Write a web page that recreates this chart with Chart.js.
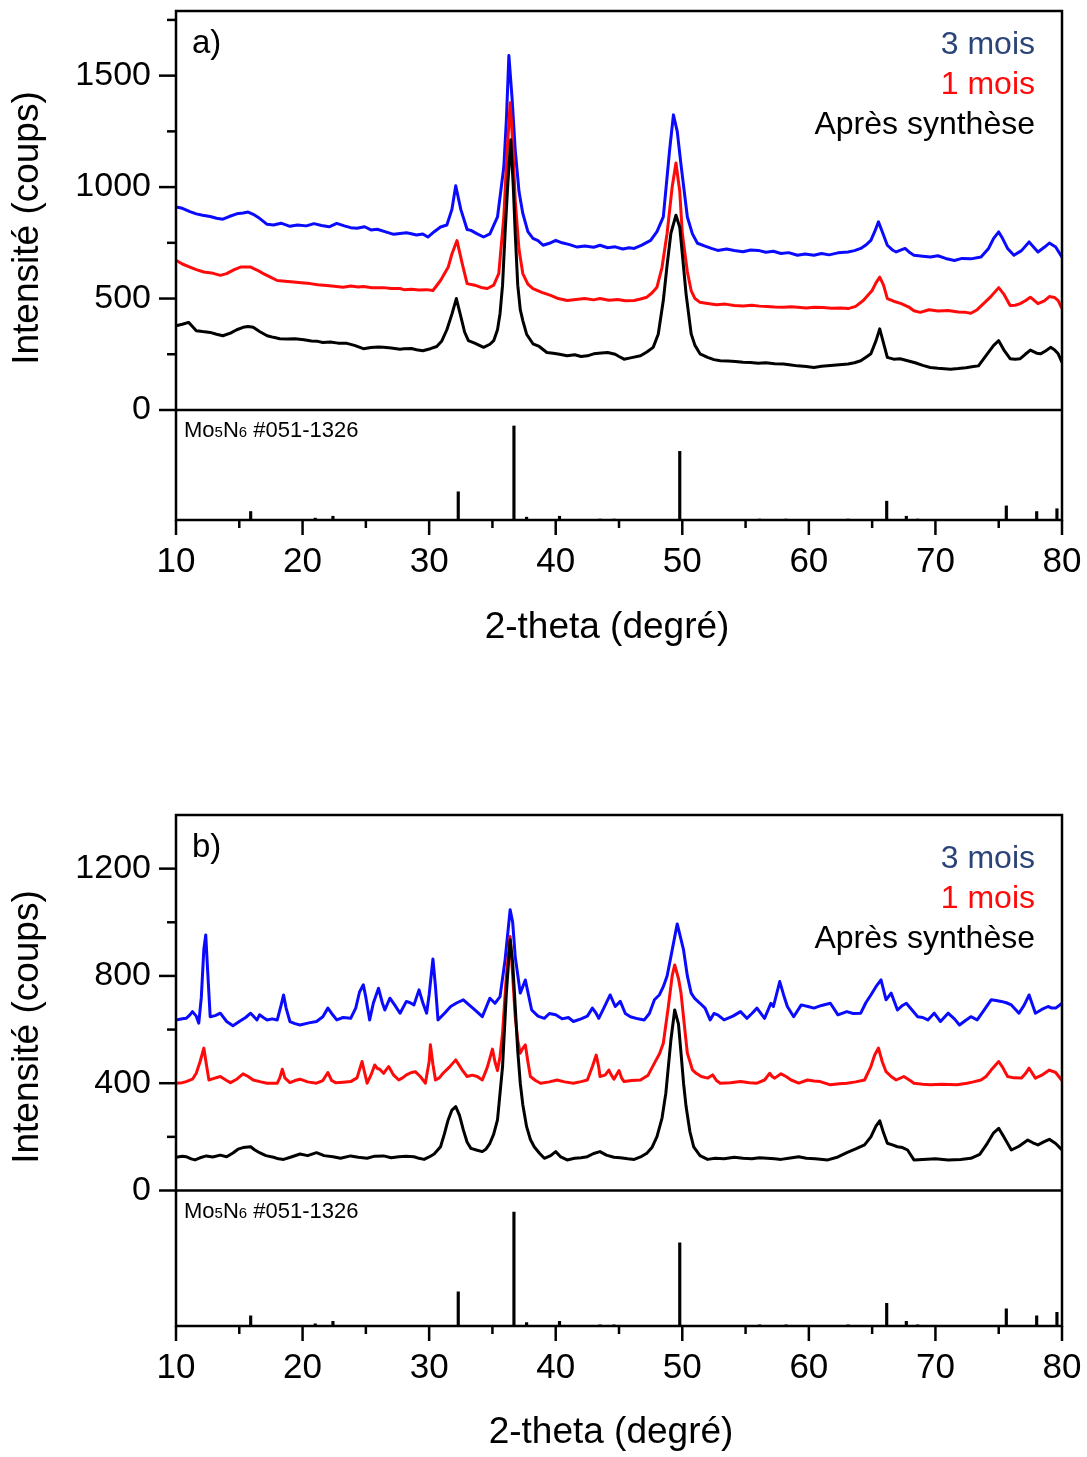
<!DOCTYPE html>
<html>
<head>
<meta charset="utf-8">
<script src="https://cdn.jsdelivr.net/npm/chart.js@4.4.1/dist/chart.umd.min.js"></script>
<style>
  html, body { margin: 0; padding: 0; background: #fff; }
  body { width: 1087px; height: 1457px; position: relative; overflow: hidden; }
  canvas { position: absolute; left: 0; }
  #graph_a { top: 0; }
  #graph_b { top: 800px; }
</style>
</head>
<body>
<canvas id="graph_a" width="1087" height="670"></canvas>
<canvas id="graph_b" width="1087" height="657"></canvas>
<script>
const FONT = '"Liberation Sans", Arial, sans-serif';
const BLUE = '#0a0aff', RED = '#ff0a0a', BLACK = '#000000', NAVY = '#2b4478';

/* legend + ticks */
const legendNames = ['3 mois', '1 mois', 'Après synthèse'];
const legendColors = [NAVY, RED, BLACK];
const xTickLabels = [10, 20, 30, 40, 50, 60, 70, 80];
const yTicksA = [0, 250, 500, 750, 1000, 1250, 1500, 1750];
const yTickLabelsA = [0, 500, 1000, 1500];
const yTicksB = [0, 200, 400, 600, 800, 1000, 1200];
const yTickLabelsB = [0, 400, 800, 1200];
const cardName = [['Mo', 0], ['5', 1], ['N', 0], ['6', 1], [' #051-1326', 0]];

/* Mo5N6 #051-1326 reference lines (relative intensity) */
const stickTheta = [15.9, 21.0, 22.4, 32.3, 36.7, 37.7, 40.3, 43.5, 44.6, 49.8, 56.1, 58.2, 63.1, 66.15, 67.7, 68.6, 75.6, 78.0, 79.6];
const stickIntensity = [9, 2, 4, 30, 100, 3, 4, 1, 1, 73, 1, 1, 1, 20, 4, 1, 15, 9, 12];

/* panel a) - 3 mois */
const thetaA3 = [10.0,10.5,11.1,11.6,12.1,12.7,13.2,13.7,14.2,14.8,15.3,15.7,16.1,16.6,17.2,17.7,18.3,19.0,19.6,20.3,20.9,21.5,22.1,22.7,23.3,23.8,24.3,24.9,25.4,25.9,26.5,27.2,27.7,28.2,28.5,29.0,29.5,29.9,30.4,30.9,31.4,31.8,32.1,32.5,33.0,33.3,33.8,34.3,34.8,35.4,35.9,36.1,36.3,36.55,36.8,37.1,37.4,37.8,38.2,38.6,39.0,39.5,40.0,40.5,41.1,41.7,42.3,43.0,43.5,44.1,44.7,45.3,45.8,46.2,46.8,47.5,48.0,48.5,49.0,49.3,49.6,49.9,50.4,50.8,51.2,51.8,52.3,52.8,53.5,54.1,54.8,55.4,56.0,56.6,57.2,57.8,58.4,59.1,59.7,60.4,61.0,61.6,62.3,63.1,63.6,64.1,64.5,64.9,65.2,65.5,65.8,66.2,66.6,66.9,67.3,67.6,68.0,68.3,69.0,69.6,70.2,70.8,71.5,72.1,72.8,73.6,74.2,74.6,75.0,75.3,75.7,76.2,76.8,77.4,78.1,78.6,79.0,79.5,80.0];
const countsA3 = [911,905,890,880,874,868,860,856,868,880,884,888,878,860,833,830,838,824,830,826,836,828,822,837,826,818,815,822,808,811,800,788,792,795,792,785,790,776,800,821,830,900,1006,900,810,806,790,776,790,866,1090,1300,1590,1400,1167,980,882,800,770,760,739,748,761,750,742,731,736,730,739,728,732,722,728,725,740,761,800,866,1167,1324,1250,1100,866,790,748,735,725,716,722,716,710,718,716,708,712,702,706,694,700,694,702,696,705,709,715,725,740,761,800,844,800,739,718,709,718,725,705,694,690,686,692,680,671,680,678,686,725,770,799,770,725,694,715,754,709,730,749,731,686];

/* panel a) - 1 mois */
const thetaA1 = [10.0,10.5,11.1,11.6,12.2,12.8,13.5,14.0,14.6,15.1,15.9,16.4,16.9,17.5,18.0,18.6,19.3,19.9,20.6,21.2,21.9,22.5,23.2,23.8,24.4,24.8,25.5,26.4,27.0,27.7,28.0,28.6,29.2,29.8,30.3,30.9,31.5,31.8,32.2,32.6,33.0,33.6,34.1,34.6,35.1,35.5,35.9,36.15,36.4,36.6,36.8,37.1,37.4,37.8,38.2,38.9,39.6,40.2,40.9,41.6,42.3,43.0,43.5,44.2,44.9,45.5,46.2,46.7,47.2,47.6,48.0,48.4,48.8,49.2,49.5,49.8,50.0,50.4,50.7,51.0,51.4,52.0,52.7,53.4,54.1,54.8,55.5,56.1,56.7,57.3,58.0,58.6,59.1,59.8,60.4,61.1,61.8,62.5,63.1,63.7,64.3,65.0,65.3,65.6,65.9,66.2,66.7,67.3,67.9,68.3,68.8,69.5,70.2,71.0,71.8,72.4,72.8,73.3,73.8,74.4,75.0,75.4,75.9,76.3,76.7,77.1,77.5,78.1,78.6,79.0,79.4,79.7,80.0];
const countsA1 = [672,655,641,630,619,615,604,612,630,641,641,628,612,595,581,578,574,571,567,562,559,555,551,556,552,554,548,549,545,545,540,542,538,540,536,581,640,700,760,660,567,560,550,545,560,612,866,1150,1378,1200,941,720,612,565,545,528,514,500,491,496,500,494,500,492,496,490,491,498,506,525,551,640,793,1000,1108,980,793,620,536,500,483,478,472,475,469,467,470,466,464,462,461,463,461,458,461,460,456,458,455,465,491,536,570,596,560,500,488,477,462,445,438,450,444,446,440,438,434,450,477,510,549,520,469,470,477,490,506,477,490,509,505,491,455];

/* panel a) - après synthèse */
const thetaA0 = [10.0,10.5,11.0,11.3,11.6,12.1,12.7,13.2,13.7,14.3,14.8,15.3,15.7,16.1,16.6,17.2,17.7,18.2,18.8,19.4,20.1,20.7,21.2,21.6,22.2,22.8,23.5,24.1,24.8,25.4,26.0,26.4,27.0,27.7,28.0,28.6,29.0,29.5,30.1,30.6,31.0,31.4,31.8,32.15,32.5,32.8,33.1,33.6,34.3,34.8,35.1,35.4,35.6,35.8,36.0,36.2,36.45,36.65,36.8,37.0,37.2,37.4,37.7,38.2,38.7,39.3,39.8,40.3,40.9,41.5,42.0,42.5,43.0,43.6,44.1,44.7,45.0,45.4,46.0,46.7,47.2,47.7,48.1,48.5,48.8,49.1,49.5,49.8,50.0,50.3,50.7,51.0,51.4,52.0,52.5,53.0,53.6,54.2,54.8,55.4,56.0,56.6,57.3,58.0,58.6,59.1,59.8,60.4,61.0,61.7,62.4,63.1,63.6,64.1,64.6,64.9,65.3,65.6,65.9,66.2,66.7,67.2,67.8,68.4,69.0,69.6,70.2,70.7,71.2,71.8,72.4,73.0,73.4,74.1,74.6,75.0,75.4,75.9,76.3,76.7,77.1,77.5,78.0,78.3,78.7,79.1,79.4,79.7,80.0];
const countsA0 = [378,385,393,375,356,352,348,340,333,345,360,371,375,371,352,333,326,320,318,320,315,310,308,303,305,300,299,290,275,280,283,281,278,273,275,276,270,266,275,285,310,360,430,500,420,350,311,300,281,295,311,360,432,560,793,1000,1212,1000,793,560,450,401,340,297,285,258,255,250,243,248,240,243,252,256,258,250,240,228,235,243,260,281,340,491,650,793,874,820,702,520,342,290,252,236,226,221,220,218,214,213,210,212,208,206,202,198,195,191,196,200,203,206,212,221,240,252,310,364,300,236,228,230,221,212,200,191,187,185,183,186,190,195,198,252,290,311,270,230,228,230,250,269,255,252,265,281,270,252,213];

/* panel b) - 3 mois */
const thetaB3 = [10.0,10.5,10.8,11.1,11.3,11.6,11.8,12.0,12.2,12.35,12.5,12.7,13.1,13.5,14.0,14.5,15.0,15.5,15.9,16.4,16.6,16.9,17.2,17.6,18.0,18.3,18.5,18.7,19.0,19.4,19.8,20.5,21.1,21.6,22.0,22.3,22.7,23.2,23.8,24.2,24.5,24.8,25.0,25.3,25.6,26.0,26.3,26.5,26.9,27.3,27.7,28.2,28.5,28.8,29.2,29.5,29.8,30.0,30.3,30.5,30.7,31.2,31.7,32.2,32.7,33.2,33.7,34.2,34.8,35.2,35.6,36.0,36.4,36.6,36.8,37.2,37.6,38.1,38.6,39.1,39.5,40.0,40.5,41.0,41.4,42.0,42.5,42.9,43.2,43.4,43.8,44.3,44.7,45.1,45.5,45.9,46.5,47.0,47.4,47.8,48.2,48.5,48.8,49.1,49.6,50.1,50.4,50.7,51.0,51.4,51.8,52.2,52.5,52.8,53.3,54.0,54.6,55.1,55.5,55.9,56.5,57.0,57.2,57.7,58.0,58.3,58.8,59.4,60.0,60.4,61.0,61.7,62.3,63.0,63.5,64.1,64.5,64.9,65.3,65.7,66.1,66.5,67.0,67.4,67.7,68.2,68.6,69.0,69.4,69.9,70.4,71.0,71.5,71.9,72.4,72.8,73.3,73.8,74.4,74.8,75.2,75.6,76.0,76.6,77.0,77.4,77.9,78.4,78.9,79.2,79.5,80.0];
const countsB3 = [636,640,642,655,667,650,624,720,900,953,820,648,652,661,630,614,630,645,661,636,655,645,636,640,636,690,729,680,630,622,617,625,630,648,680,660,636,645,642,680,740,767,720,636,700,754,700,673,717,690,661,705,700,692,748,700,661,730,863,760,636,660,686,700,711,690,670,648,717,698,723,860,1047,1000,872,736,785,673,650,642,660,655,640,645,630,640,650,680,660,642,680,729,686,705,660,648,640,636,660,711,730,760,800,872,994,897,800,736,715,698,680,636,660,655,636,650,667,642,660,680,642,698,686,779,730,686,648,692,685,680,690,698,655,667,660,661,700,729,760,785,711,736,673,690,698,670,648,645,636,661,630,661,640,617,635,648,636,670,711,708,705,700,692,661,690,729,661,675,686,680,680,698];

/* panel b) - 1 mois */
const thetaB1 = [10.0,10.5,10.8,11.3,11.6,11.9,12.2,12.4,12.6,13.0,13.5,14.0,14.3,14.8,15.3,15.7,16.1,16.7,17.2,18.0,18.2,18.4,18.6,19.0,19.4,19.8,20.4,21.1,21.6,22.0,22.3,22.6,23.2,23.8,24.3,24.7,24.9,25.1,25.4,25.7,25.9,26.1,26.4,26.6,26.8,27.2,27.6,27.9,28.2,28.6,28.9,29.3,29.7,30.0,30.1,30.3,30.5,30.8,31.1,31.6,32.1,32.6,33.0,33.4,33.8,34.2,34.6,35.0,35.2,35.4,35.6,35.8,36.1,36.4,36.6,36.8,37.0,37.2,37.4,37.6,37.8,38.0,38.4,38.8,39.5,40.1,40.7,41.4,42.0,42.5,42.9,43.2,43.4,43.5,43.9,44.2,44.4,44.6,45.0,45.2,45.4,46.0,46.7,47.3,47.8,48.2,48.5,48.9,49.2,49.4,49.7,49.9,50.2,50.4,50.8,51.1,51.5,52.0,52.2,52.4,52.7,53.0,53.8,54.6,55.3,55.9,56.5,56.9,57.1,57.3,57.8,58.2,58.6,59.2,59.9,60.4,60.9,61.7,62.4,63.0,63.7,64.4,64.9,65.2,65.5,65.8,66.1,66.5,66.9,67.5,68.0,68.3,69.0,69.6,70.5,71.7,72.5,73.0,73.6,74.0,74.4,75.0,75.3,75.7,76.2,76.8,77.1,77.4,77.9,78.4,79.0,79.5,80.0];
const countsB1 = [400,402,406,415,437,480,531,470,412,418,425,410,402,415,435,425,412,405,400,400,420,452,420,402,410,415,405,400,410,440,410,402,404,406,420,481,440,400,430,468,455,452,437,450,462,430,412,420,431,440,443,425,400,480,543,470,412,420,437,460,487,450,425,430,425,412,460,527,480,447,500,587,800,947,800,648,560,512,530,543,480,425,410,400,405,412,405,400,406,412,462,505,460,425,430,449,430,415,447,420,406,410,412,430,475,510,549,686,800,841,790,736,600,512,450,437,425,419,425,431,410,400,402,406,402,400,412,437,425,419,435,425,412,400,412,408,406,394,398,400,405,412,462,505,531,480,443,425,412,425,410,400,396,394,396,394,400,405,412,425,449,481,460,425,420,419,435,456,419,430,449,440,410];

/* panel b) - après synthèse */
const thetaB0 = [10.0,10.5,10.8,11.2,11.5,11.9,12.4,12.9,13.5,14.0,14.5,14.9,15.3,15.9,16.2,16.6,17.1,17.7,18.1,18.5,19.1,19.8,20.4,21.1,21.7,22.4,23.0,23.8,24.4,25.1,25.7,26.4,27.0,27.6,28.2,28.8,29.2,29.6,30.0,30.4,30.9,31.2,31.5,31.8,32.1,32.4,32.7,33.0,33.3,33.8,34.2,34.5,34.8,35.1,35.4,35.8,36.1,36.4,36.6,36.8,37.0,37.2,37.4,37.7,38.0,38.3,38.7,39.1,39.6,40.0,40.4,40.9,41.5,42.0,42.5,43.0,43.5,44.0,44.6,45.1,45.7,46.2,46.7,47.2,47.6,48.0,48.4,48.7,49.1,49.4,49.7,49.9,50.1,50.3,50.6,50.9,51.4,52.0,52.6,53.3,54.1,54.8,55.5,56.1,56.7,57.3,57.8,58.4,59.2,59.8,60.5,61.5,62.3,63.0,63.7,64.4,64.9,65.3,65.6,65.9,66.2,66.6,67.0,67.4,67.8,68.3,69.0,70.0,71.0,72.0,72.8,73.5,74.1,74.6,75.0,75.4,76.0,76.6,77.3,77.7,78.1,78.6,79.0,79.5,80.0];
const countsB0 = [124,128,126,118,114,122,129,125,132,126,140,154,160,163,152,141,130,124,118,116,125,136,130,141,130,126,120,129,124,120,128,129,122,126,128,126,120,116,125,136,163,210,263,300,313,280,226,180,157,150,145,155,176,210,263,462,736,935,850,686,520,400,320,238,190,163,140,120,130,145,125,114,120,122,126,138,145,132,124,122,118,116,125,139,160,201,270,363,561,673,620,512,400,313,220,163,130,116,120,118,124,120,118,122,120,118,116,120,126,120,118,114,125,141,155,170,200,240,260,215,176,170,163,160,151,114,116,118,114,116,120,135,176,215,232,200,151,165,188,178,170,182,191,175,151];

function points(theta, counts) {
    return theta.map((t, i) => ({ x: t, y: counts[i] }));
}

/* keep the plot area where the picture has it: no label overflow padding */
function fixBox(s, size) {
    if (s.isHorizontal()) s.height = size; else s.width = size;
    s.paddingTop = 0; s.paddingBottom = 0; s.paddingLeft = 0; s.paddingRight = 0;
}

/* frame, outward ticks and the texts placed inside the plot */
const framePlugin = {
    id: 'frame',
    afterDraw(chart, args, o) {
        const { ctx, chartArea: area, scales: { x, y } } = chart;
        const seg = (x1, y1, x2, y2) => { ctx.beginPath(); ctx.moveTo(x1, y1); ctx.lineTo(x2, y2); ctx.stroke(); };
        ctx.save();
        ctx.strokeStyle = BLACK;
        ctx.lineWidth = 2.5;
        ctx.strokeRect(area.left, area.top, area.right - area.left, area.bottom - area.top);
        seg(area.left, y.bottom, area.right, y.bottom);

        y.ticks.forEach(t => {
            const py = y.getPixelForValue(t.value);
            seg(area.left - (t.value % o.yMajor ? 9 : 17), py, area.left, py);
        });
        x.ticks.forEach(t => {
            const px = x.getPixelForValue(t.value);
            seg(px, area.bottom, px, area.bottom + (t.value % 10 ? 8 : 15));
        });

        ctx.fillStyle = BLACK;
        ctx.textBaseline = 'middle';
        ctx.textAlign = 'left';
        ctx.font = `33px ${FONT}`;
        ctx.fillText(o.panel, area.left + 16, area.top + 33);

        ctx.font = `32px ${FONT}`;
        ctx.textAlign = 'right';
        legendNames.forEach((name, i) => {
            ctx.fillStyle = legendColors[i];
            ctx.fillText(name, area.right - 27, area.top + o.legendTop + i * 40);
        });

        ctx.fillStyle = BLACK;
        ctx.textAlign = 'left';
        ctx.textBaseline = 'alphabetic';
        let cx = area.left + 8;
        cardName.forEach(([txt, sub]) => {
            ctx.font = `${sub ? 15 : 22}px ${FONT}`;
            ctx.fillText(txt, cx, y.bottom + 27);
            cx += ctx.measureText(txt).width;
        });

        ctx.textAlign = 'center';
        ctx.textBaseline = 'middle';
        ctx.font = `37px ${FONT}`;
        ctx.fillText('2-theta (degré)', o.xTitleX, o.xTitleY);
        ctx.translate(28, o.yTitleY);
        ctx.rotate(-Math.PI / 2);
        ctx.fillText('Intensité (coups)', 0, 0);
        ctx.restore();
    }
};

function Plot(position, p) {
    const line = (data, color) => ({
        data: data, borderColor: color, borderWidth: 3, pointRadius: 0,
        tension: 0, borderJoinStyle: 'round', fill: false, yAxisID: 'y'
    });
    new Chart(document.getElementById(`graph_${position}`), {
        type: 'line',
        data: {
            datasets: [
                line(points(p.theta[2], p.counts[2]), BLACK),
                line(points(p.theta[1], p.counts[1]), RED),
                line(points(p.theta[0], p.counts[0]), BLUE),
                {
                    type: 'bar', data: points(stickTheta, stickIntensity), yAxisID: 'y2',
                    backgroundColor: BLACK, barThickness: 2.5
                }
            ]
        },
        options: {
            responsive: false,
            devicePixelRatio: 1,
            animation: false,
            layout: { autoPadding: false, padding: { top: p.top, right: 25, left: 0, bottom: 0 } },
            plugins: { legend: { display: false }, tooltip: { enabled: false }, frame: p.frame },
            scales: {
                x: {
                    type: 'linear', min: 10, max: 80, bounds: 'data', offset: false,
                    grid: { display: false, drawTicks: false, offset: false }, border: { display: false },
                    ticks: {
                        stepSize: 5, includeBounds: false, autoSkip: false, maxRotation: 0, padding: 21,
                        color: BLACK, font: { family: FONT, size: 35 },
                        callback: v => xTickLabels.includes(v) ? String(v) : ''
                    },
                    afterFit: s => fixBox(s, p.xHeight)
                },
                // sticks first: left boxes are stacked in reverse order, so 'y' ends up on top
                y2: {
                    type: 'linear', position: 'left', stack: 'panel', stackWeight: p.weights[1],
                    min: 0, max: p.stickMax, bounds: 'data',
                    grid: { display: false, drawTicks: false }, border: { display: false },
                    ticks: { display: false },
                    afterFit: s => fixBox(s, 176)
                },
                y: {
                    type: 'linear', position: 'left', stack: 'panel', stackWeight: p.weights[0],
                    min: 0, max: p.yMax, bounds: 'data',
                    grid: { display: false, drawTicks: false }, border: { display: false },
                    afterBuildTicks: s => { s.ticks = p.yTicks.map(v => ({ value: v })); },
                    ticks: {
                        autoSkip: false, padding: 25,
                        color: BLACK, font: { family: FONT, size: 34 },
                        callback: v => p.yLabels.includes(v) ? String(v) : ''
                    },
                    afterFit: s => fixBox(s, 176)
                }
            }
        },
        plugins: [framePlugin]
    });
}

Plot('a', {
    theta: [thetaA3, thetaA1, thetaA0], counts: [countsA3, countsA1, countsA0],
    top: 11, xHeight: 150, weights: [399, 110], yMax: 1790, stickMax: 117,
    yTicks: yTicksA, yLabels: yTickLabelsA,
    frame: { panel: 'a)', yMajor: 500, legendTop: 34, xTitleX: 607, xTitleY: 628, yTitleY: 228 }
});

Plot('b', {
    theta: [thetaB3, thetaB1, thetaB0], counts: [countsB3, countsB1, countsB0],
    top: 15, xHeight: 131, weights: [375.5, 135.5], yMax: 1400, stickMax: 119,
    yTicks: yTicksB, yLabels: yTickLabelsB,
    frame: { panel: 'b)', yMajor: 400, legendTop: 44, xTitleX: 611, xTitleY: 633, yTitleY: 227 }
});
</script>
</body>
</html>
